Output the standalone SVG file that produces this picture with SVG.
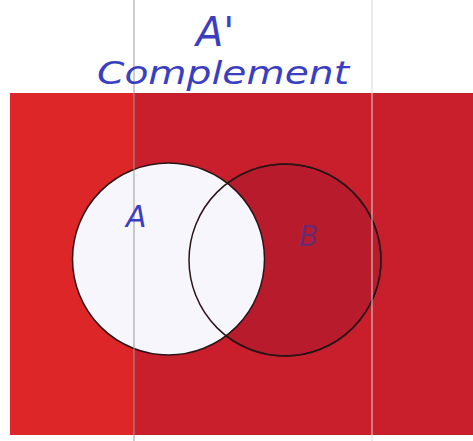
<svg xmlns="http://www.w3.org/2000/svg" width="473" height="441" viewBox="0 0 473 441">
<style>
.hand{font-family:"DejaVu Sans","Liberation Sans",sans-serif;font-style:italic;fill:#3b3fbf}
.rule{stroke:#9a9a9a;stroke-width:1}
.circ{stroke:#2a1418;stroke-width:1.5}
</style>
<rect width="473" height="441" fill="#ffffff"/>
<g id="universe">
<rect x="10" y="93" width="463" height="342" fill="#c91f2c"/>
<rect x="10" y="93" width="124" height="342" fill="#dc2628"/>
</g>
<g id="setB">
<circle cx="285" cy="260" r="96" fill="#b81c2c" class="circ"/>
</g>
<g id="setA">
<circle cx="168.5" cy="259" r="96" fill="#f7f6fc" class="circ"/>
</g>
<g id="setB-outline">
<circle cx="285" cy="260" r="96" fill="none" class="circ"/>
</g>
<g id="rules">
<line x1="134" y1="0" x2="134" y2="441" class="rule"/>
<line x1="372" y1="0" x2="372" y2="441" stroke="#d8d8d8" stroke-width="1"/>
</g>
<g id="labels">
<text x="196" y="46" class="hand" font-size="40">A'</text>
<text x="97" y="84" class="hand" font-size="32" textLength="252" lengthAdjust="spacingAndGlyphs">Complement</text>
<text x="126" y="227" class="hand" font-size="30">A</text>
<text x="299" y="246" class="hand" font-size="28" style="fill:#6b2a70">B</text>
</g>
</svg>
